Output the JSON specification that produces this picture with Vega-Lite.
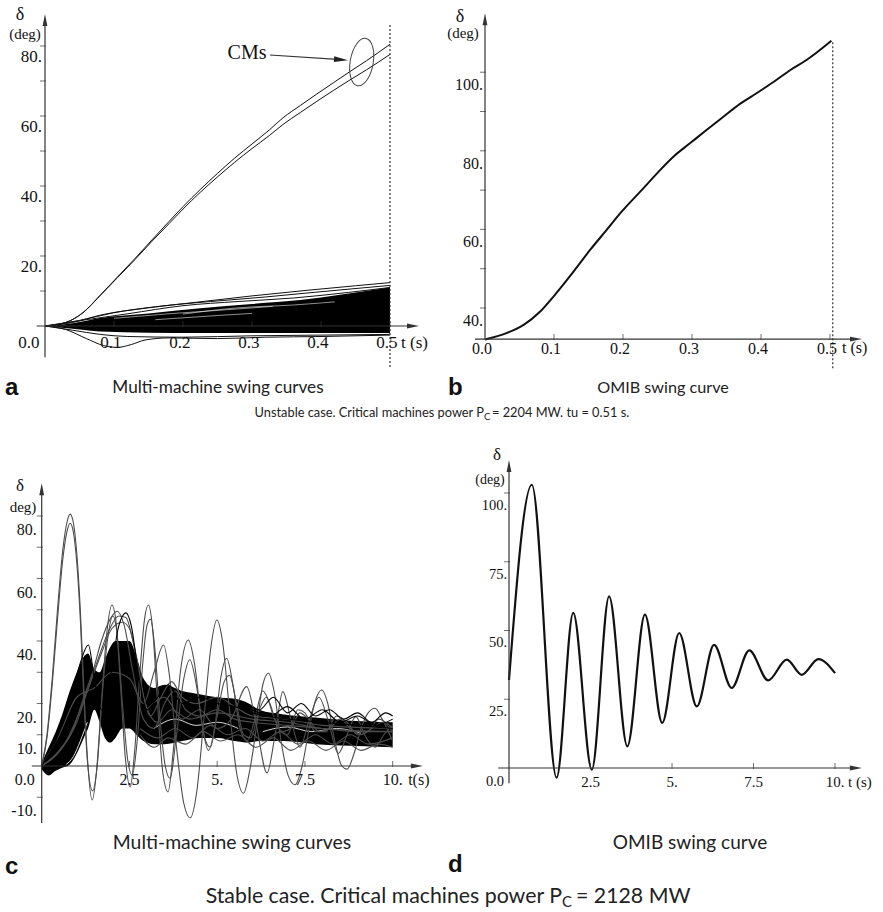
{
"$schema":"https://vega.github.io/schema/vega-lite/v6.json",
"background":"white","padding":0,"spacing":0,"bounds":"flush","columns":2,"align":"each",
"config":{"view":{"stroke":null}},
"concat":[
{"width":440,"height":440,
"encoding":{"x":{"field":"t","type":"quantitative","scale":{"domain":[-0.065217,0.572464],"nice":false,"zero":false},"axis":null},"y":{"field":"d","type":"quantitative","scale":{"domain":[-32.571,93.143],"nice":false,"zero":false},"axis":null}},
"layer":[
{"data":{"values":[{"t":0,"d":0,"d2":0},{"t":0.04,"d":-0.8,"d2":0.8},{"t":0.08,"d":-1.6,"d2":2.3},{"t":0.15,"d":-1.9,"d2":3.6},{"t":0.225,"d":-2.0,"d2":5.1},{"t":0.3,"d":-2.0,"d2":6.3},{"t":0.37,"d":-2.0,"d2":7.4},{"t":0.43,"d":-2.0,"d2":9.0},{"t":0.5,"d":-2.0,"d2":11.1}]},
 "mark":{"type":"area","color":"#000","interpolate":"monotone"},"encoding":{"y2":{"field":"d2"}}},
{"data":{"values":[{"id":"w1","t":0.1,"d":2.2},{"id":"w1","t":0.18,"d":3.5},{"id":"w1","t":0.26,"d":4.6},{"id":"w1","t":0.33,"d":5.6},{"id":"w2","t":0.2,"d":3.4},{"id":"w2","t":0.28,"d":5.2},{"id":"w2","t":0.36,"d":6.0},{"id":"w2","t":0.42,"d":6.9},{"id":"w3","t":0.16,"d":1.8},{"id":"w3","t":0.25,"d":3.0},{"id":"w3","t":0.3,"d":3.6}]},
 "mark":{"type":"line","color":"#fff","strokeWidth":0.7,"opacity":0.8,"interpolate":"monotone"},"encoding":{"detail":{"field":"id"}}},
{"data":{"values":[
{"id":"cm1","t":0,"d":0},{"id":"cm1","t":0.03,"d":1.0},{"id":"cm1","t":0.055,"d":3.8},{"id":"cm1","t":0.08,"d":8.8},{"id":"cm1","t":0.105,"d":14.0},{"id":"cm1","t":0.13,"d":19.2},{"id":"cm1","t":0.155,"d":24.6},{"id":"cm1","t":0.18,"d":29.9},{"id":"cm1","t":0.2,"d":34.1},{"id":"cm1","t":0.225,"d":39.0},{"id":"cm1","t":0.25,"d":43.6},{"id":"cm1","t":0.275,"d":48.0},{"id":"cm1","t":0.3,"d":52.0},{"id":"cm1","t":0.325,"d":56.0},{"id":"cm1","t":0.345,"d":59.5},{"id":"cm1","t":0.37,"d":63.0},{"id":"cm1","t":0.394,"d":66.3},{"id":"cm1","t":0.418,"d":69.5},{"id":"cm1","t":0.442,"d":72.7},{"id":"cm1","t":0.466,"d":75.8},{"id":"cm1","t":0.5,"d":80.5},
{"id":"cm2","t":0,"d":0},{"id":"cm2","t":0.03,"d":1.0},{"id":"cm2","t":0.055,"d":3.8},{"id":"cm2","t":0.08,"d":8.7},{"id":"cm2","t":0.105,"d":13.8},{"id":"cm2","t":0.13,"d":18.9},{"id":"cm2","t":0.155,"d":24.2},{"id":"cm2","t":0.18,"d":29.3},{"id":"cm2","t":0.2,"d":33.4},{"id":"cm2","t":0.225,"d":38.2},{"id":"cm2","t":0.25,"d":42.6},{"id":"cm2","t":0.275,"d":46.8},{"id":"cm2","t":0.3,"d":50.7},{"id":"cm2","t":0.325,"d":54.4},{"id":"cm2","t":0.345,"d":57.6},{"id":"cm2","t":0.37,"d":61.0},{"id":"cm2","t":0.394,"d":64.2},{"id":"cm2","t":0.418,"d":67.3},{"id":"cm2","t":0.442,"d":70.3},{"id":"cm2","t":0.466,"d":73.2},{"id":"cm2","t":0.5,"d":77.6},
{"id":"top1","t":0,"d":0},{"id":"top1","t":0.04,"d":1.0},{"id":"top1","t":0.08,"d":3.1},{"id":"top1","t":0.15,"d":5.2},{"id":"top1","t":0.22,"d":6.8},{"id":"top1","t":0.3,"d":8.6},{"id":"top1","t":0.38,"d":10.2},{"id":"top1","t":0.45,"d":11.5},{"id":"top1","t":0.5,"d":12.4},
{"id":"top2","t":0,"d":0},{"id":"top2","t":0.05,"d":1.6},{"id":"top2","t":0.1,"d":3.8},{"id":"top2","t":0.16,"d":5.5},{"id":"top2","t":0.24,"d":7.0},{"id":"top2","t":0.32,"d":8.3},{"id":"top2","t":0.4,"d":9.8},{"id":"top2","t":0.5,"d":11.6},
{"id":"top3","t":0,"d":0},{"id":"top3","t":0.06,"d":1.8},{"id":"top3","t":0.12,"d":3.5},{"id":"top3","t":0.2,"d":5.8},{"id":"top3","t":0.28,"d":7.0},{"id":"top3","t":0.36,"d":8.0},{"id":"top3","t":0.44,"d":9.6},{"id":"top3","t":0.5,"d":11.0},
{"id":"dip1","t":0,"d":0},{"id":"dip1","t":0.03,"d":-1.0},{"id":"dip1","t":0.06,"d":-3.6},{"id":"dip1","t":0.085,"d":-5.6},{"id":"dip1","t":0.105,"d":-6.1},{"id":"dip1","t":0.125,"d":-5.3},{"id":"dip1","t":0.145,"d":-4.0},{"id":"dip1","t":0.18,"d":-3.4},{"id":"dip1","t":0.25,"d":-3.6},{"id":"dip1","t":0.32,"d":-3.2},{"id":"dip1","t":0.4,"d":-3.0},{"id":"dip1","t":0.5,"d":-2.6},
{"id":"dip2","t":0,"d":0},{"id":"dip2","t":0.04,"d":-1.2},{"id":"dip2","t":0.08,"d":-2.4},{"id":"dip2","t":0.12,"d":-3.0},{"id":"dip2","t":0.2,"d":-3.2},{"id":"dip2","t":0.3,"d":-2.8},{"id":"dip2","t":0.4,"d":-2.6},{"id":"dip2","t":0.5,"d":-2.4}]},
 "mark":{"type":"line","color":"#111","strokeWidth":1,"interpolate":"monotone"},"encoding":{"detail":{"field":"id"}}},
{"data":{"values":[{"t":0,"d":-8.9,"t2":0,"d2":87.4},{"t":-0.012,"d":0,"t2":0.533,"d2":0},{"t":0.326,"d":77.43,"t2":0.429,"d2":76.1}]},"mark":{"type":"rule","color":"#333","strokeWidth":1.2},"encoding":{"x2":{"field":"t2"},"y2":{"field":"d2"}}},
{"data":{"values":[{"t":0.5,"d":-11.7,"t2":0.5,"d2":86.6}]},"mark":{"type":"rule","color":"#333","strokeWidth":1.2,"strokeDash":[2,2]},"encoding":{"x2":{"field":"t2"},"y2":{"field":"d2"}}},
{"data":{"values":[{"t":0,"d":87.4}]},"mark":{"type":"point","shape":"M0,-1L0.4,1L-0.4,1Z","filled":true,"size":144,"color":"#333","opacity":1}},
{"data":{"values":[{"t":0.5333,"d":0}]},"mark":{"type":"point","shape":"M1,0L-1,-0.4L-1,0.4Z","filled":true,"size":144,"color":"#333","opacity":1}},
{"data":{"values":[{"t":0.429,"d":76.1}]},"mark":{"type":"point","shape":"M1,0L-1,-0.4L-1,0.4Z","filled":true,"size":196,"color":"#222","opacity":1,"angle":4}},
{"data":{"values":[{"t":0.459,"d":75.4}]},"mark":{"type":"point","shape":"M0,-1A0.48,1 0 1,1 0,1A0.48,1 0 1,1 0,-1Z","filled":false,"size":2304,"color":"#444","strokeWidth":1,"opacity":1,"angle":10}},
{"data":{"values":[{"t":0,"d":10},{"t":0,"d":20},{"t":0,"d":30},{"t":0,"d":40},{"t":0,"d":50},{"t":0,"d":60},{"t":0,"d":70},{"t":0,"d":80}]},"mark":{"type":"tick","orient":"horizontal","size":6,"thickness":1,"color":"#333","xOffset":-2}},
{"data":{"values":[{"t":0.1,"d":0},{"t":0.2,"d":0},{"t":0.3,"d":0},{"t":0.4,"d":0},{"t":0.5,"d":0}]},"mark":{"type":"tick","orient":"vertical","size":6,"thickness":1,"color":"#333","yOffset":-2}},
{"data":{"values":[{"t":0,"d":20,"label":"20."},{"t":0,"d":40,"label":"40."},{"t":0,"d":60,"label":"60."},{"t":0,"d":80,"label":"80."}]},"mark":{"type":"text","font":"Liberation Serif","fontSize":17,"color":"#111","align":"right","baseline":"middle","dx":-3,"dy":11},"encoding":{"text":{"field":"label"}}},
{"data":{"values":[{"t":0.1,"d":0,"label":"0.1"},{"t":0.2,"d":0,"label":"0.2"},{"t":0.3,"d":0,"label":"0.3"},{"t":0.4,"d":0,"label":"0.4"},{"t":0.5,"d":0,"label":"0.5"}]},"mark":{"type":"text","font":"Liberation Serif","fontSize":17,"color":"#111","align":"center","baseline":"middle","dx":-3,"dy":17},"encoding":{"text":{"field":"label"}}},
{"data":{"values":[{"t":0,"d":0,"label":"0.0"}]},"mark":{"type":"text","font":"Liberation Serif","fontSize":17,"color":"#111","align":"center","baseline":"middle","dx":-16,"dy":17},"encoding":{"text":{"field":"label"}}},
{"data":{"values":[{"t":-0.0362,"d":88.86,"label":"δ"}]},"mark":{"type":"text","font":"Liberation Serif","fontSize":18,"color":"#111","align":"center","baseline":"middle"},"encoding":{"text":{"field":"label"}}},
{"data":{"values":[{"t":-0.029,"d":83.4,"label":"(deg)"}]},"mark":{"type":"text","font":"Liberation Serif","fontSize":15,"color":"#111","align":"center","baseline":"middle"},"encoding":{"text":{"field":"label"}}},
{"data":{"values":[{"t":0.516,"d":-4.86,"label":"t (s)"}]},"mark":{"type":"text","font":"Liberation Serif","fontSize":17,"color":"#111","align":"left","baseline":"middle"},"encoding":{"text":{"field":"label"}}},
{"data":{"values":[{"t":0.2928,"d":78.0,"label":"CMs"}]},"mark":{"type":"text","font":"Liberation Serif","fontSize":20,"color":"#111","align":"center","baseline":"middle"},"encoding":{"text":{"field":"label"}}},
{"data":{"values":[{"t":-0.058,"d":-17.7,"label":"a"}]},"mark":{"type":"text","font":"Liberation Sans","fontWeight":"bold","fontSize":24,"color":"#111","align":"left","baseline":"middle"},"encoding":{"text":{"field":"label"}}},
{"data":{"values":[{"t":0.2507,"d":-17.7,"label":"Multi-machine swing curves"}]},"mark":{"type":"text","font":"Lato","fontSize":17.2,"color":"#222","align":"center","baseline":"middle"},"encoding":{"text":{"field":"label"}}},
{"data":{"values":[{"t":0.6362,"d":-24.86,"label":"Unstable case. Critical machines power P"}]},"mark":{"type":"text","font":"Lato","fontSize":12.8,"color":"#222","align":"right","baseline":"middle"},"encoding":{"text":{"field":"label"}}},
{"data":{"values":[{"t":0.6362,"d":-24.86,"label":"C"}]},"mark":{"type":"text","font":"Lato","fontSize":9.5,"color":"#222","align":"left","baseline":"middle","dy":4},"encoding":{"text":{"field":"label"}}},
{"data":{"values":[{"t":0.6478,"d":-24.86,"label":"= 2204 MW. tu = 0.51 s."}]},"mark":{"type":"text","font":"Lato","fontSize":12.8,"color":"#222","align":"left","baseline":"middle"},"encoding":{"text":{"field":"label"}}}
]},
{"width":443,"height":440,
"encoding":{"x":{"field":"t","type":"quantitative","scale":{"domain":[-0.065217,0.576812],"nice":false,"zero":false},"axis":null},"y":{"field":"d","type":"quantitative","scale":{"domain":[6.412,118.372],"nice":false,"zero":false},"axis":null}},
"layer":[
{"data":{"values":[{"t":0,"d":32.0},{"t":0.031,"d":33.6},{"t":0.056,"d":35.7},{"t":0.08,"d":39.1},{"t":0.101,"d":43.3},{"t":0.128,"d":49.2},{"t":0.152,"d":54.7},{"t":0.176,"d":59.8},{"t":0.198,"d":64.5},{"t":0.225,"d":69.6},{"t":0.249,"d":74.2},{"t":0.273,"d":78.5},{"t":0.297,"d":81.9},{"t":0.321,"d":85.3},{"t":0.345,"d":88.6},{"t":0.37,"d":92.0},{"t":0.394,"d":94.7},{"t":0.418,"d":97.5},{"t":0.442,"d":100.5},{"t":0.466,"d":103.1},{"t":0.502,"d":108.0}]},
 "mark":{"type":"line","color":"#111","strokeWidth":2,"interpolate":"monotone"}},
{"data":{"values":[{"t":0,"d":32.1,"t2":0,"d2":113.5},{"t":-0.0145,"d":32.1,"t2":0.5377,"d2":32.1}]},"mark":{"type":"rule","color":"#333","strokeWidth":1.2},"encoding":{"x2":{"field":"t2"},"y2":{"field":"d2"}}},
{"data":{"values":[{"t":0.504,"d":24.7,"t2":0.504,"d2":108}]},"mark":{"type":"rule","color":"#333","strokeWidth":1.2,"strokeDash":[2,2]},"encoding":{"x2":{"field":"t2"},"y2":{"field":"d2"}}},
{"data":{"values":[{"t":0,"d":113.5}]},"mark":{"type":"point","shape":"M0,-1L0.4,1L-0.4,1Z","filled":true,"size":144,"color":"#333","opacity":1}},
{"data":{"values":[{"t":0.5377,"d":32.1}]},"mark":{"type":"point","shape":"M1,0L-1,-0.4L-1,0.4Z","filled":true,"size":144,"color":"#333","opacity":1}},
{"data":{"values":[{"t":0,"d":40},{"t":0,"d":50},{"t":0,"d":60},{"t":0,"d":70},{"t":0,"d":80},{"t":0,"d":90},{"t":0,"d":100}]},"mark":{"type":"tick","orient":"horizontal","size":6,"thickness":1,"color":"#333","xOffset":-2}},
{"data":{"values":[{"t":0.1,"d":32.1},{"t":0.2,"d":32.1},{"t":0.3,"d":32.1},{"t":0.4,"d":32.1},{"t":0.5,"d":32.1}]},"mark":{"type":"tick","orient":"vertical","size":6,"thickness":1,"color":"#333","yOffset":-2}},
{"data":{"values":[{"t":0,"d":40,"label":"40."},{"t":0,"d":60,"label":"60."},{"t":0,"d":80,"label":"80."},{"t":0,"d":100,"label":"100."}]},"mark":{"type":"text","font":"Liberation Serif","fontSize":16,"color":"#111","align":"right","baseline":"middle","dx":-2,"dy":13},"encoding":{"text":{"field":"label"}}},
{"data":{"values":[{"t":0,"d":32.1,"label":"0.0"},{"t":0.1,"d":32.1,"label":"0.1"},{"t":0.2,"d":32.1,"label":"0.2"},{"t":0.3,"d":32.1,"label":"0.3"},{"t":0.4,"d":32.1,"label":"0.4"},{"t":0.5,"d":32.1,"label":"0.5"}]},"mark":{"type":"text","font":"Liberation Serif","fontSize":16,"color":"#111","align":"center","baseline":"middle","dx":-3,"dy":10},"encoding":{"text":{"field":"label"}}},
{"data":{"values":[{"t":-0.0362,"d":114.0,"label":"δ"}]},"mark":{"type":"text","font":"Liberation Serif","fontSize":18,"color":"#111","align":"center","baseline":"middle"},"encoding":{"text":{"field":"label"}}},
{"data":{"values":[{"t":-0.0319,"d":109.9,"label":"(deg)"}]},"mark":{"type":"text","font":"Liberation Serif","fontSize":15,"color":"#111","align":"center","baseline":"middle"},"encoding":{"text":{"field":"label"}}},
{"data":{"values":[{"t":0.5174,"d":29.8,"label":"t (s)"}]},"mark":{"type":"text","font":"Liberation Serif","fontSize":16,"color":"#111","align":"left","baseline":"middle"},"encoding":{"text":{"field":"label"}}},
{"data":{"values":[{"t":-0.0536,"d":19.64,"label":"b"}]},"mark":{"type":"text","font":"Liberation Sans","fontWeight":"bold","fontSize":24,"color":"#111","align":"left","baseline":"middle"},"encoding":{"text":{"field":"label"}}},
{"data":{"values":[{"t":0.258,"d":19.64,"label":"OMIB swing curve"}]},"mark":{"type":"text","font":"Lato","fontSize":16.2,"color":"#222","align":"center","baseline":"middle"},"encoding":{"text":{"field":"label"}}}
]},
{"width":440,"height":472,
"encoding":{"x":{"field":"t","type":"quantitative","scale":{"domain":[-1.188,11.348],"nice":false,"zero":false},"axis":null},"y":{"field":"d","type":"quantitative","scale":{"domain":[-46.72,104.32],"nice":false,"zero":false},"axis":null}},
"layer":[
{"data":{"values":[{"t":0,"d":-1,"d2":1},{"t":0.2,"d":-3,"d2":6},{"t":0.4,"d":-1.5,"d2":11},{"t":0.6,"d":-0.5,"d2":17},{"t":0.8,"d":0.5,"d2":24},{"t":1.0,"d":4,"d2":30},{"t":1.2,"d":9,"d2":35},{"t":1.32,"d":12,"d2":36},{"t":1.5,"d":18,"d2":31},{"t":1.65,"d":14,"d2":30},{"t":1.8,"d":9,"d2":34},{"t":1.95,"d":7.5,"d2":38},{"t":2.1,"d":9,"d2":40},{"t":2.3,"d":12,"d2":40},{"t":2.5,"d":12,"d2":40},{"t":2.7,"d":10,"d2":35},{"t":2.9,"d":8,"d2":28},{"t":3.2,"d":7,"d2":25},{"t":3.5,"d":7,"d2":26},{"t":4.0,"d":8,"d2":24},{"t":4.5,"d":9,"d2":23},{"t":5.0,"d":9,"d2":22},{"t":5.5,"d":8,"d2":21.5},{"t":5.9,"d":7.5,"d2":20},{"t":6.2,"d":8,"d2":18},{"t":6.9,"d":8,"d2":16.5},{"t":7.8,"d":7,"d2":15.5},{"t":8.8,"d":6.5,"d2":14.5},{"t":10,"d":6,"d2":14}]},
 "mark":{"type":"area","color":"#000","interpolate":"monotone"},"encoding":{"y2":{"field":"d2"}}},
{"data":{"values":[{"id":"wc1","t":0.7,"d":0.5},{"id":"wc1","t":0.9,"d":3},{"id":"wc1","t":1.1,"d":8},{"id":"wc1","t":1.3,"d":14},{"id":"wc2","t":3.2,"d":12},{"id":"wc2","t":3.8,"d":15},{"id":"wc2","t":4.4,"d":13},{"id":"wc2","t":5.0,"d":14},{"id":"wc2","t":5.6,"d":12},{"id":"wc3","t":6.3,"d":11},{"id":"wc3","t":7.0,"d":12.5},{"id":"wc3","t":7.7,"d":11},{"id":"wc3","t":8.4,"d":12},{"id":"wc3","t":9.1,"d":10.5}]},
 "mark":{"type":"line","color":"#fff","strokeWidth":1,"opacity":0.85,"interpolate":"monotone"},"encoding":{"detail":{"field":"id"}}},
{"data":{"values":[
{"id":"cm1","g":"swing","t":0,"d":0},{"id":"cm1","g":"swing","t":0.15,"d":10},{"id":"cm1","g":"swing","t":0.3,"d":28},{"id":"cm1","g":"swing","t":0.45,"d":50},{"id":"cm1","g":"swing","t":0.6,"d":69},{"id":"cm1","g":"swing","t":0.72,"d":78},{"id":"cm1","g":"swing","t":0.81,"d":80.6},{"id":"cm1","g":"swing","t":0.9,"d":78},{"id":"cm1","g":"swing","t":1.0,"d":68},{"id":"cm1","g":"swing","t":1.1,"d":50},{"id":"cm1","g":"swing","t":1.2,"d":25},{"id":"cm1","g":"swing","t":1.3,"d":3},{"id":"cm1","g":"swing","t":1.44,"d":-10.9},{"id":"cm1","g":"swing","t":1.56,"d":-2},{"id":"cm1","g":"swing","t":1.7,"d":20},{"id":"cm1","g":"swing","t":1.85,"d":42},{"id":"cm1","g":"swing","t":2.0,"d":51.5},{"id":"cm1","g":"swing","t":2.12,"d":46},{"id":"cm1","g":"swing","t":2.25,"d":25},{"id":"cm1","g":"swing","t":2.38,"d":3},{"id":"cm1","g":"swing","t":2.52,"d":-6.7},{"id":"cm1","g":"swing","t":2.65,"d":5},{"id":"cm1","g":"swing","t":2.8,"d":30},{"id":"cm1","g":"swing","t":2.93,"d":47},{"id":"cm1","g":"swing","t":3.04,"d":51.5},{"id":"cm1","g":"swing","t":3.16,"d":44},{"id":"cm1","g":"swing","t":3.3,"d":20},{"id":"cm1","g":"swing","t":3.45,"d":-2},{"id":"cm1","g":"swing","t":3.6,"d":-8.3},{"id":"cm1","g":"swing","t":3.75,"d":5},{"id":"cm1","g":"swing","t":3.95,"d":30},{"id":"cm1","g":"swing","t":4.18,"d":40.3},{"id":"cm1","g":"swing","t":4.35,"d":33},{"id":"cm1","g":"swing","t":4.55,"d":15},{"id":"cm1","g":"swing","t":4.75,"d":5},{"id":"cm1","g":"swing","t":4.95,"d":14},{"id":"cm1","g":"swing","t":5.1,"d":28},{"id":"cm1","g":"swing","t":5.27,"d":34.5},{"id":"cm1","g":"swing","t":5.45,"d":26},{"id":"cm1","g":"swing","t":5.65,"d":12},{"id":"cm1","g":"swing","t":5.85,"d":8},{"id":"cm1","g":"swing","t":6.05,"d":14},{"id":"cm1","g":"swing","t":6.3,"d":24},{"id":"cm1","g":"swing","t":6.5,"d":20},{"id":"cm1","g":"swing","t":6.75,"d":12},{"id":"cm1","g":"swing","t":7.0,"d":10},{"id":"cm1","g":"swing","t":7.3,"d":18},{"id":"cm1","g":"swing","t":7.5,"d":17},{"id":"cm1","g":"swing","t":7.8,"d":11},{"id":"cm1","g":"swing","t":8.1,"d":11},{"id":"cm1","g":"swing","t":8.4,"d":16},{"id":"cm1","g":"swing","t":8.7,"d":14},{"id":"cm1","g":"swing","t":9.0,"d":10},{"id":"cm1","g":"swing","t":9.3,"d":11},{"id":"cm1","g":"swing","t":9.6,"d":15},{"id":"cm1","g":"swing","t":10,"d":12},
{"id":"cm2","g":"swing","t":0,"d":0},{"id":"cm2","g":"swing","t":0.15,"d":9},{"id":"cm2","g":"swing","t":0.3,"d":26},{"id":"cm2","g":"swing","t":0.45,"d":47},{"id":"cm2","g":"swing","t":0.6,"d":66},{"id":"cm2","g":"swing","t":0.72,"d":75},{"id":"cm2","g":"swing","t":0.81,"d":77.7},{"id":"cm2","g":"swing","t":0.9,"d":75},{"id":"cm2","g":"swing","t":1.0,"d":65},{"id":"cm2","g":"swing","t":1.1,"d":47},{"id":"cm2","g":"swing","t":1.2,"d":22},{"id":"cm2","g":"swing","t":1.3,"d":2},{"id":"cm2","g":"swing","t":1.45,"d":-8},{"id":"cm2","g":"swing","t":1.58,"d":0},{"id":"cm2","g":"swing","t":1.72,"d":22},{"id":"cm2","g":"swing","t":1.87,"d":40},{"id":"cm2","g":"swing","t":2.03,"d":48},{"id":"cm2","g":"swing","t":2.15,"d":42},{"id":"cm2","g":"swing","t":2.3,"d":20},{"id":"cm2","g":"swing","t":2.45,"d":2},{"id":"cm2","g":"swing","t":2.58,"d":-3},{"id":"cm2","g":"swing","t":2.72,"d":8},{"id":"cm2","g":"swing","t":2.88,"d":33},{"id":"cm2","g":"swing","t":3.0,"d":45},{"id":"cm2","g":"swing","t":3.1,"d":47},{"id":"cm2","g":"swing","t":3.22,"d":38},{"id":"cm2","g":"swing","t":3.38,"d":14},{"id":"cm2","g":"swing","t":3.52,"d":0},{"id":"cm2","g":"swing","t":3.66,"d":-4},{"id":"cm2","g":"swing","t":3.82,"d":8},{"id":"cm2","g":"swing","t":4.05,"d":28},{"id":"cm2","g":"swing","t":4.22,"d":34},{"id":"cm2","g":"swing","t":4.42,"d":25},{"id":"cm2","g":"swing","t":4.62,"d":10},{"id":"cm2","g":"swing","t":4.8,"d":6},{"id":"cm2","g":"swing","t":5.0,"d":16},{"id":"cm2","g":"swing","t":5.2,"d":27},{"id":"cm2","g":"swing","t":5.35,"d":29},{"id":"cm2","g":"swing","t":5.55,"d":20},{"id":"cm2","g":"swing","t":5.75,"d":10},{"id":"cm2","g":"swing","t":5.95,"d":9},{"id":"cm2","g":"swing","t":6.2,"d":18},{"id":"cm2","g":"swing","t":6.4,"d":22},{"id":"cm2","g":"swing","t":6.6,"d":16},{"id":"cm2","g":"swing","t":6.85,"d":11},{"id":"cm2","g":"swing","t":7.1,"d":12},{"id":"cm2","g":"swing","t":7.35,"d":17},{"id":"cm2","g":"swing","t":7.6,"d":15},{"id":"cm2","g":"swing","t":7.9,"d":11},{"id":"cm2","g":"swing","t":8.2,"d":12},{"id":"cm2","g":"swing","t":8.5,"d":15},{"id":"cm2","g":"swing","t":8.8,"d":12},{"id":"cm2","g":"swing","t":9.1,"d":10},{"id":"cm2","g":"swing","t":9.4,"d":12},{"id":"cm2","g":"swing","t":9.7,"d":14},{"id":"cm2","g":"swing","t":10,"d":11},
{"id":"b1","g":"swing","t":0,"d":0},{"id":"b1","g":"swing","t":0.5,"d":10},{"id":"b1","g":"swing","t":1.0,"d":22},{"id":"b1","g":"swing","t":1.5,"d":25},{"id":"b1","g":"swing","t":2.0,"d":30},{"id":"b1","g":"swing","t":2.5,"d":28},{"id":"b1","g":"swing","t":2.9,"d":20},{"id":"b1","g":"swing","t":3.2,"d":30},{"id":"b1","g":"swing","t":3.47,"d":38.7},{"id":"b1","g":"swing","t":3.65,"d":28},{"id":"b1","g":"swing","t":3.85,"d":5},{"id":"b1","g":"swing","t":4.05,"d":-12},{"id":"b1","g":"swing","t":4.23,"d":-16.6},{"id":"b1","g":"swing","t":4.42,"d":-8},{"id":"b1","g":"swing","t":4.62,"d":15},{"id":"b1","g":"swing","t":4.82,"d":38},{"id":"b1","g":"swing","t":4.99,"d":46.7},{"id":"b1","g":"swing","t":5.15,"d":40},{"id":"b1","g":"swing","t":5.35,"d":18},{"id":"b1","g":"swing","t":5.55,"d":-2},{"id":"b1","g":"swing","t":5.75,"d":-8.7},{"id":"b1","g":"swing","t":5.95,"d":0},{"id":"b1","g":"swing","t":6.15,"d":15},{"id":"b1","g":"swing","t":6.3,"d":26},{"id":"b1","g":"swing","t":6.46,"d":29.7},{"id":"b1","g":"swing","t":6.62,"d":24},{"id":"b1","g":"swing","t":6.82,"d":8},{"id":"b1","g":"swing","t":7.02,"d":-3},{"id":"b1","g":"swing","t":7.22,"d":-6},{"id":"b1","g":"swing","t":7.42,"d":0},{"id":"b1","g":"swing","t":7.62,"d":12},{"id":"b1","g":"swing","t":7.8,"d":21},{"id":"b1","g":"swing","t":7.98,"d":24.3},{"id":"b1","g":"swing","t":8.15,"d":20},{"id":"b1","g":"swing","t":8.35,"d":8},{"id":"b1","g":"swing","t":8.55,"d":0},{"id":"b1","g":"swing","t":8.7,"d":-1},{"id":"b1","g":"swing","t":8.9,"d":4},{"id":"b1","g":"swing","t":9.1,"d":12},{"id":"b1","g":"swing","t":9.3,"d":17},{"id":"b1","g":"swing","t":9.5,"d":18.5},{"id":"b1","g":"swing","t":9.7,"d":15},{"id":"b1","g":"swing","t":10,"d":8},
{"id":"c1","g":"swing","t":3,"d":18},{"id":"c1","g":"swing","t":3.5,"d":22},{"id":"c1","g":"swing","t":4,"d":15},{"id":"c1","g":"swing","t":4.5,"d":18},{"id":"c1","g":"swing","t":5,"d":12},{"id":"c1","g":"swing","t":5.4,"d":15},{"id":"c1","g":"swing","t":5.84,"d":25.4},{"id":"c1","g":"swing","t":6.1,"d":14},{"id":"c1","g":"swing","t":6.42,"d":-2.2},{"id":"c1","g":"swing","t":6.65,"d":10},{"id":"c1","g":"swing","t":6.87,"d":23.8},{"id":"c1","g":"swing","t":7.1,"d":15},{"id":"c1","g":"swing","t":7.36,"d":6},{"id":"c1","g":"swing","t":7.6,"d":14},{"id":"c1","g":"swing","t":7.9,"d":22},{"id":"c1","g":"swing","t":8.15,"d":15},{"id":"c1","g":"swing","t":8.45,"d":4},{"id":"c1","g":"swing","t":8.7,"d":10},{"id":"c1","g":"swing","t":8.95,"d":15.8},{"id":"c1","g":"swing","t":9.2,"d":10},{"id":"c1","g":"swing","t":9.5,"d":6},{"id":"c1","g":"swing","t":9.75,"d":10},{"id":"c1","g":"swing","t":10,"d":13},
{"id":"g1","g":"swing","t":0,"d":0},{"id":"g1","g":"swing","t":0.5,"d":5},{"id":"g1","g":"swing","t":0.9,"d":12},{"id":"g1","g":"swing","t":1.2,"d":22},{"id":"g1","g":"swing","t":1.45,"d":30},{"id":"g1","g":"swing","t":1.7,"d":40},{"id":"g1","g":"swing","t":1.95,"d":47},{"id":"g1","g":"swing","t":2.15,"d":49.5},{"id":"g1","g":"swing","t":2.35,"d":45},{"id":"g1","g":"swing","t":2.6,"d":30},{"id":"g1","g":"swing","t":2.9,"d":15},{"id":"g1","g":"swing","t":3.2,"d":12},{"id":"g1","g":"swing","t":3.5,"d":20},{"id":"g1","g":"swing","t":3.8,"d":24},{"id":"g1","g":"swing","t":4.1,"d":18},{"id":"g1","g":"swing","t":4.5,"d":16},{"id":"g1","g":"swing","t":5,"d":18},{"id":"g1","g":"swing","t":5.5,"d":15},{"id":"g1","g":"swing","t":6,"d":14},{"id":"g1","g":"swing","t":7,"d":13},{"id":"g1","g":"swing","t":8,"d":12},{"id":"g1","g":"swing","t":9,"d":11},{"id":"g1","g":"swing","t":10,"d":11},
{"id":"g2","g":"swing","t":0,"d":0},{"id":"g2","g":"swing","t":0.6,"d":6},{"id":"g2","g":"swing","t":1.0,"d":14},{"id":"g2","g":"swing","t":1.3,"d":24},{"id":"g2","g":"swing","t":1.6,"d":34},{"id":"g2","g":"swing","t":1.9,"d":43},{"id":"g2","g":"swing","t":2.2,"d":48},{"id":"g2","g":"swing","t":2.4,"d":47.5},{"id":"g2","g":"swing","t":2.6,"d":40},{"id":"g2","g":"swing","t":2.85,"d":25},{"id":"g2","g":"swing","t":3.1,"d":16},{"id":"g2","g":"swing","t":3.4,"d":22},{"id":"g2","g":"swing","t":3.7,"d":27},{"id":"g2","g":"swing","t":4.0,"d":22},{"id":"g2","g":"swing","t":4.4,"d":20},{"id":"g2","g":"swing","t":5,"d":22},{"id":"g2","g":"swing","t":5.5,"d":19},{"id":"g2","g":"swing","t":6,"d":16},{"id":"g2","g":"swing","t":7,"d":15},{"id":"g2","g":"swing","t":8,"d":13},{"id":"g2","g":"swing","t":10,"d":12},
{"id":"g3","g":"swing","t":0,"d":0},{"id":"g3","g":"swing","t":0.7,"d":8},{"id":"g3","g":"swing","t":1.1,"d":18},{"id":"g3","g":"swing","t":1.4,"d":27},{"id":"g3","g":"swing","t":1.7,"d":36},{"id":"g3","g":"swing","t":2.0,"d":44},{"id":"g3","g":"swing","t":2.3,"d":46},{"id":"g3","g":"swing","t":2.5,"d":44},{"id":"g3","g":"swing","t":2.7,"d":35},{"id":"g3","g":"swing","t":2.95,"d":20},{"id":"g3","g":"swing","t":3.3,"d":14},{"id":"g3","g":"swing","t":3.7,"d":18},{"id":"g3","g":"swing","t":4.2,"d":15},{"id":"g3","g":"swing","t":5,"d":17},{"id":"g3","g":"swing","t":6,"d":15},{"id":"g3","g":"swing","t":7,"d":14},{"id":"g3","g":"swing","t":8,"d":12},{"id":"g3","g":"swing","t":10,"d":11},
{"id":"low1","g":"swing","t":2.8,"d":10},{"id":"low1","g":"swing","t":3.2,"d":6},{"id":"low1","g":"swing","t":3.6,"d":9},{"id":"low1","g":"swing","t":4.1,"d":7},{"id":"low1","g":"swing","t":4.6,"d":11},{"id":"low1","g":"swing","t":5.1,"d":8},{"id":"low1","g":"swing","t":5.6,"d":10},{"id":"low1","g":"swing","t":6.1,"d":6},{"id":"low1","g":"swing","t":6.6,"d":9},{"id":"low1","g":"swing","t":7.1,"d":5},{"id":"low1","g":"swing","t":7.6,"d":8},{"id":"low1","g":"swing","t":8.1,"d":5},{"id":"low1","g":"swing","t":8.6,"d":8},{"id":"low1","g":"swing","t":9.1,"d":5},{"id":"low1","g":"swing","t":9.6,"d":7},{"id":"low1","g":"swing","t":10,"d":6},
{"id":"low2","g":"swing","t":2.8,"d":12},{"id":"low2","g":"swing","t":3.3,"d":9},{"id":"low2","g":"swing","t":3.8,"d":12},{"id":"low2","g":"swing","t":4.3,"d":9},{"id":"low2","g":"swing","t":4.8,"d":13},{"id":"low2","g":"swing","t":5.3,"d":10},{"id":"low2","g":"swing","t":5.8,"d":12},{"id":"low2","g":"swing","t":6.3,"d":8},{"id":"low2","g":"swing","t":6.8,"d":11},{"id":"low2","g":"swing","t":7.3,"d":7},{"id":"low2","g":"swing","t":7.8,"d":10},{"id":"low2","g":"swing","t":8.3,"d":7},{"id":"low2","g":"swing","t":8.8,"d":10},{"id":"low2","g":"swing","t":9.3,"d":7},{"id":"low2","g":"swing","t":10,"d":9},
{"id":"e1","g":"bundle","t":0,"d":0},{"id":"e1","g":"bundle","t":0.4,"d":8},{"id":"e1","g":"bundle","t":0.8,"d":20},{"id":"e1","g":"bundle","t":1.1,"d":33},{"id":"e1","g":"bundle","t":1.33,"d":38.7},{"id":"e1","g":"bundle","t":1.5,"d":28},{"id":"e1","g":"bundle","t":1.7,"d":18},{"id":"e1","g":"bundle","t":1.9,"d":25},{"id":"e1","g":"bundle","t":2.2,"d":45},{"id":"e1","g":"bundle","t":2.4,"d":49},{"id":"e1","g":"bundle","t":2.55,"d":45},{"id":"e1","g":"bundle","t":2.75,"d":30},{"id":"e1","g":"bundle","t":3.0,"d":18},{"id":"e1","g":"bundle","t":3.3,"d":22},{"id":"e1","g":"bundle","t":3.6,"d":26},{"id":"e1","g":"bundle","t":4,"d":20},{"id":"e1","g":"bundle","t":4.5,"d":22},{"id":"e1","g":"bundle","t":5,"d":20},{"id":"e1","g":"bundle","t":5.5,"d":19},{"id":"e1","g":"bundle","t":6,"d":17},{"id":"e1","g":"bundle","t":7,"d":15},{"id":"e1","g":"bundle","t":8,"d":14},{"id":"e1","g":"bundle","t":9,"d":13},{"id":"e1","g":"bundle","t":10,"d":12},
{"id":"up1","g":"bundle","t":5.8,"d":20},{"id":"up1","g":"bundle","t":6.2,"d":18},{"id":"up1","g":"bundle","t":6.6,"d":22},{"id":"up1","g":"bundle","t":7,"d":17},{"id":"up1","g":"bundle","t":7.4,"d":20},{"id":"up1","g":"bundle","t":7.8,"d":16},{"id":"up1","g":"bundle","t":8.2,"d":18},{"id":"up1","g":"bundle","t":8.6,"d":15},{"id":"up1","g":"bundle","t":9,"d":17},{"id":"up1","g":"bundle","t":9.4,"d":14},{"id":"up1","g":"bundle","t":9.8,"d":17},{"id":"up1","g":"bundle","t":10,"d":16},
{"id":"up2","g":"bundle","t":6,"d":18},{"id":"up2","g":"bundle","t":6.5,"d":16},{"id":"up2","g":"bundle","t":7,"d":19},{"id":"up2","g":"bundle","t":7.5,"d":15},{"id":"up2","g":"bundle","t":8,"d":18},{"id":"up2","g":"bundle","t":8.5,"d":14},{"id":"up2","g":"bundle","t":9,"d":16},{"id":"up2","g":"bundle","t":9.5,"d":13},{"id":"up2","g":"bundle","t":10,"d":15}]},
 "mark":{"type":"line","strokeWidth":1.1,"interpolate":"monotone"},"encoding":{"detail":{"field":"id"},"color":{"field":"g","type":"nominal","scale":{"domain":["bundle","swing"],"range":["#000000","#4d4d4d"]},"legend":null}}},
{"data":{"values":[{"t":0,"d":-18.2,"t2":0,"d2":88.6},{"t":-0.28,"d":0,"t2":10.69,"d2":0}]},"mark":{"type":"rule","color":"#333","strokeWidth":1.2},"encoding":{"x2":{"field":"t2"},"y2":{"field":"d2"}}},
{"data":{"values":[{"t":0,"d":88.6}]},"mark":{"type":"point","shape":"M0,-1L0.4,1L-0.4,1Z","filled":true,"size":144,"color":"#333","opacity":1}},
{"data":{"values":[{"t":10.69,"d":0}]},"mark":{"type":"point","shape":"M1,0L-1,-0.4L-1,0.4Z","filled":true,"size":144,"color":"#333","opacity":1}},
{"data":{"values":[{"t":0,"d":-10},{"t":0,"d":10},{"t":0,"d":20},{"t":0,"d":30},{"t":0,"d":40},{"t":0,"d":50},{"t":0,"d":60},{"t":0,"d":70},{"t":0,"d":80}]},"mark":{"type":"tick","orient":"horizontal","size":6,"thickness":1,"color":"#333","xOffset":-2}},
{"data":{"values":[{"t":2.5,"d":0},{"t":5,"d":0},{"t":7.5,"d":0},{"t":10,"d":0}]},"mark":{"type":"tick","orient":"vertical","size":6,"thickness":1,"color":"#333","yOffset":-2}},
{"data":{"values":[{"t":0,"d":-10,"label":"-10."},{"t":0,"d":10,"label":"10."},{"t":0,"d":20,"label":"20."},{"t":0,"d":40,"label":"40."},{"t":0,"d":60,"label":"60."},{"t":0,"d":80,"label":"80."}]},"mark":{"type":"text","font":"Liberation Serif","fontSize":16,"color":"#111","align":"right","baseline":"middle","dx":-5,"dy":14},"encoding":{"text":{"field":"label"}}},
{"data":{"values":[{"t":2.5,"d":0,"label":"2.5"},{"t":5,"d":0,"label":"5."},{"t":7.5,"d":0,"label":"7.5"},{"t":10,"d":0,"label":"10."}]},"mark":{"type":"text","font":"Liberation Serif","fontSize":16,"color":"#111","align":"center","baseline":"middle","dy":14},"encoding":{"text":{"field":"label"}}},
{"data":{"values":[{"t":0,"d":0,"label":"0.0"}]},"mark":{"type":"text","font":"Liberation Serif","fontSize":16,"color":"#111","align":"center","baseline":"middle","dx":-17,"dy":14},"encoding":{"text":{"field":"label"}}},
{"data":{"values":[{"t":-0.618,"d":89.5,"label":"δ"}]},"mark":{"type":"text","font":"Liberation Serif","fontSize":17,"color":"#111","align":"center","baseline":"middle"},"encoding":{"text":{"field":"label"}}},
{"data":{"values":[{"t":-0.533,"d":83.0,"label":"deg)"}]},"mark":{"type":"text","font":"Liberation Serif","fontSize":15,"color":"#111","align":"center","baseline":"middle"},"encoding":{"text":{"field":"label"}}},
{"data":{"values":[{"t":10.44,"d":-4.48,"label":"t(s)"}]},"mark":{"type":"text","font":"Liberation Serif","fontSize":16,"color":"#111","align":"left","baseline":"middle"},"encoding":{"text":{"field":"label"}}},
{"data":{"values":[{"t":-1.046,"d":-32.3,"label":"c"}]},"mark":{"type":"text","font":"Liberation Sans","fontWeight":"bold","fontSize":24,"color":"#111","align":"left","baseline":"middle"},"encoding":{"text":{"field":"label"}}},
{"data":{"values":[{"t":5.42,"d":-24.64,"label":"Multi-machine swing curves"}]},"mark":{"type":"text","font":"Lato","fontSize":19.4,"color":"#222","align":"center","baseline":"middle"},"encoding":{"text":{"field":"label"}}},
{"data":{"values":[{"t":14.823,"d":-41.9,"label":"Stable case. Critical machines power P"}]},"mark":{"type":"text","font":"Lato","fontSize":21.3,"color":"#222","align":"right","baseline":"middle"},"encoding":{"text":{"field":"label"}}},
{"data":{"values":[{"t":14.823,"d":-41.9,"label":"C"}]},"mark":{"type":"text","font":"Lato","fontSize":15,"color":"#222","align":"left","baseline":"middle","dy":5},"encoding":{"text":{"field":"label"}}},
{"data":{"values":[{"t":15.222,"d":-41.9,"label":"= 2128 MW"}]},"mark":{"type":"text","font":"Lato","fontSize":21.3,"color":"#222","align":"left","baseline":"middle"},"encoding":{"text":{"field":"label"}}}
]},
{"width":443,"height":472,
"encoding":{"x":{"field":"t","type":"quantitative","scale":{"domain":[-2.1166,11.472],"nice":false,"zero":false},"axis":null},"y":{"field":"d","type":"quantitative","scale":{"domain":[-52.36,119.27],"nice":false,"zero":false},"axis":null}},
"layer":[
{"data":{"values":[{"t":0,"d":32},{"t":0.7,"d":103},{"t":1.46,"d":-3.5},{"t":1.97,"d":56.4},{"t":2.54,"d":-0.6},{"t":3.07,"d":62.4},{"t":3.63,"d":7.9},{"t":4.17,"d":55.8},{"t":4.7,"d":16.4},{"t":5.22,"d":49.1},{"t":5.76,"d":22.4},{"t":6.29,"d":44.8},{"t":6.83,"d":29.1},{"t":7.37,"d":42.8},{"t":7.95,"d":31.9},{"t":8.52,"d":39.4},{"t":8.98,"d":33.9},{"t":9.49,"d":39.6},{"t":10,"d":34.5}]},
 "mark":{"type":"line","color":"#111","strokeWidth":2.2,"interpolate":"monotone"}},
{"data":{"values":[{"t":0,"d":-5.5,"t2":0,"d2":109.8},{"t":-0.33,"d":0,"t2":10.64,"d2":0}]},"mark":{"type":"rule","color":"#333","strokeWidth":1.2},"encoding":{"x2":{"field":"t2"},"y2":{"field":"d2"}}},
{"data":{"values":[{"t":0,"d":109.8}]},"mark":{"type":"point","shape":"M0,-1L0.4,1L-0.4,1Z","filled":true,"size":144,"color":"#333","opacity":1}},
{"data":{"values":[{"t":10.64,"d":0}]},"mark":{"type":"point","shape":"M1,0L-1,-0.4L-1,0.4Z","filled":true,"size":144,"color":"#333","opacity":1}},
{"data":{"values":[{"t":0,"d":25},{"t":0,"d":50},{"t":0,"d":75},{"t":0,"d":100}]},"mark":{"type":"tick","orient":"horizontal","size":6,"thickness":1,"color":"#333","xOffset":-2}},
{"data":{"values":[{"t":2.5,"d":0},{"t":5,"d":0},{"t":7.5,"d":0},{"t":10,"d":0}]},"mark":{"type":"tick","orient":"vertical","size":6,"thickness":1,"color":"#333","yOffset":-2}},
{"data":{"values":[{"t":0,"d":25,"label":"25."},{"t":0,"d":50,"label":"50."},{"t":0,"d":75,"label":"75."},{"t":0,"d":100,"label":"100."}]},"mark":{"type":"text","font":"Liberation Serif","fontSize":14.5,"color":"#111","align":"right","baseline":"middle","dx":-2,"dy":13},"encoding":{"text":{"field":"label"}}},
{"data":{"values":[{"t":2.5,"d":0,"label":"2.5"},{"t":5,"d":0,"label":"5."},{"t":7.5,"d":0,"label":"7.5"},{"t":10,"d":0,"label":"10."}]},"mark":{"type":"text","font":"Liberation Serif","fontSize":15,"color":"#111","align":"center","baseline":"middle","dy":14},"encoding":{"text":{"field":"label"}}},
{"data":{"values":[{"t":0,"d":0,"label":"0.0"}]},"mark":{"type":"text","font":"Liberation Serif","fontSize":14.5,"color":"#111","align":"center","baseline":"middle","dx":-14,"dy":14},"encoding":{"text":{"field":"label"}}},
{"data":{"values":[{"t":-0.368,"d":113.8,"label":"δ"}]},"mark":{"type":"text","font":"Liberation Serif","fontSize":17,"color":"#111","align":"center","baseline":"middle"},"encoding":{"text":{"field":"label"}}},
{"data":{"values":[{"t":-0.583,"d":104.7,"label":"(deg)"}]},"mark":{"type":"text","font":"Liberation Serif","fontSize":14,"color":"#111","align":"center","baseline":"middle"},"encoding":{"text":{"field":"label"}}},
{"data":{"values":[{"t":10.4,"d":-5.1,"label":"t (s)"}]},"mark":{"type":"text","font":"Liberation Serif","fontSize":15,"color":"#111","align":"left","baseline":"middle"},"encoding":{"text":{"field":"label"}}},
{"data":{"values":[{"t":-1.871,"d":-35.27,"label":"d"}]},"mark":{"type":"text","font":"Liberation Sans","fontWeight":"bold","fontSize":24,"color":"#111","align":"left","baseline":"middle"},"encoding":{"text":{"field":"label"}}},
{"data":{"values":[{"t":5.552,"d":-27.27,"label":"OMIB swing curve"}]},"mark":{"type":"text","font":"Lato","fontSize":19,"color":"#222","align":"center","baseline":"middle"},"encoding":{"text":{"field":"label"}}}
]}
]
}
